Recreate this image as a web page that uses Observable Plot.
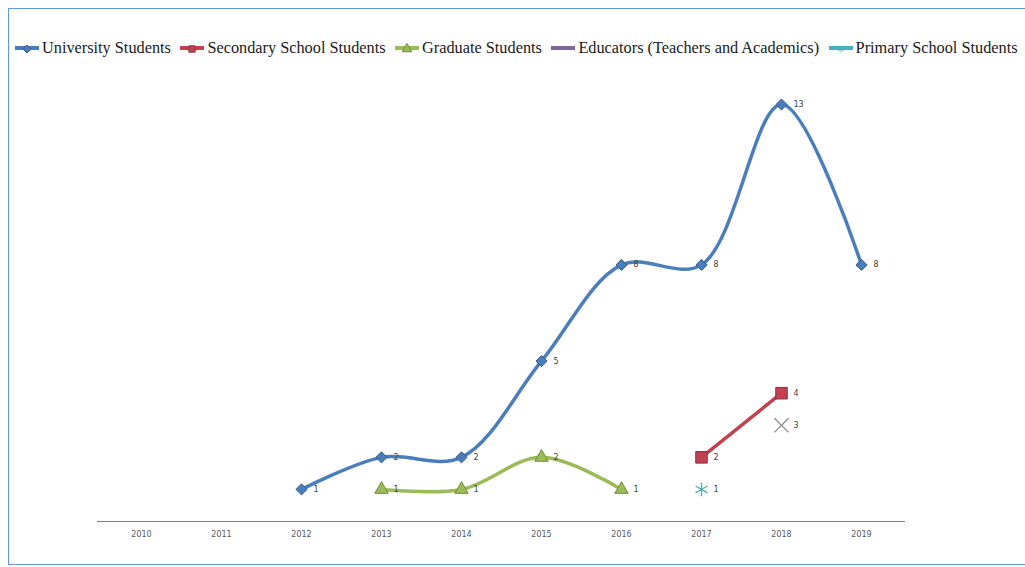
<!DOCTYPE html>
<html>
<head>
<meta charset="utf-8">
<script src="https://cdn.jsdelivr.net/npm/d3@7"></script>
<script src="https://cdn.jsdelivr.net/npm/@observablehq/plot@0.6"></script>
<style>
  body { margin: 0; background: #fff; width: 1025px; height: 567px; overflow: hidden; position: relative; }
  #legend { position: absolute; left: 14px; top: 38px; height: 20px; display: flex; align-items: center;
    font-family: "Liberation Serif", "Times New Roman", serif; font-size: 16.3px; color: #1a1a1a; white-space: nowrap; }
  #legend .item { display: flex; align-items: center; margin-right: 8.5px; }
  #legend svg { margin-right: 2px; }
  #chart { position: absolute; left: 0; top: 66px; }
  #frame { position: absolute; left: 8px; top: 8px; width: 1040px; height: 555px; border: 1.5px solid #5b9bd5; border-right: none; pointer-events: none; }
</style>
</head>
<body>
<div id="legend"></div>
<div id="chart"></div>
<div id="frame"></div>
<script>
const years = [2010, 2011, 2012, 2013, 2014, 2015, 2016, 2017, 2018, 2019];
const university = [null, null, 1, 2, 2, 5, 8, 8, 13, 8];
const secondary  = [null, null, null, null, null, null, null, 2, 4, null];
const graduate   = [null, null, null, 1, 1, 2, 1, null, null, null];
const educators  = [null, null, null, null, null, null, null, null, 3, null];
const primary    = [null, null, null, null, null, null, null, 1, null, null];

const seriesNames = ["University Students", "Secondary School Students", "Graduate Students", "Educators (Teachers and Academics)", "Primary School Students"];
const seriesValues = [university, secondary, graduate, educators, primary];
const seriesColors = ["#4a7ebb", "#c2414f", "#9bbb59", "#7d6a9c", "#4bacc6"];
const seriesStrokes = ["#385d8a", "#8c2f3e", "#71893f", "#8a8a9a", "#4bb0b0"];
const seriesSymbols = ["diamond2", "square", "triangle", "times", "asterisk"];
const seriesR = [5, 6.5, 5, 6.5, 6.5];

const rows = [];
seriesNames.forEach((name, i) => {
  seriesValues[i].forEach((v, j) => {
    if (v != null) rows.push({series: name, idx: i, year: String(years[j]), value: v});
  });
});

const marks = [
  Plot.ruleY([0], {stroke: "#7f7f7f", strokeWidth: 1})
];
seriesNames.forEach((name, i) => {
  const data = rows.filter(d => d.idx === i);
  if (data.length > 1) {
    marks.push(Plot.line(data, {x: "year", y: "value", stroke: seriesColors[i], strokeWidth: 3.5, curve: "catmull-rom"}));
  }
});
seriesNames.forEach((name, i) => {
  const data = rows.filter(d => d.idx === i);
  const stroked = seriesSymbols[i] === "times" || seriesSymbols[i] === "asterisk";
  marks.push(Plot.dot(data, {
    x: "year", y: "value", symbol: () => seriesSymbols[i], r: seriesR[i],
    fill: stroked ? "none" : seriesColors[i],
    stroke: seriesStrokes[i], strokeWidth: stroked ? 1.3 : 1
  }));
});
marks.push(Plot.text(rows, {x: "year", y: "value", text: d => String(d.value), dx: 12, textAnchor: "start",
  fontSize: 8, fill: "#404040", fontFamily: "DejaVu Sans, sans-serif"}));

const chart = Plot.plot({
  width: 1025,
  height: 501,
  marginLeft: 97,
  marginRight: 120,
  marginTop: 38,
  marginBottom: 46,
  style: {background: "transparent", fontFamily: "DejaVu Sans, sans-serif"},
  symbol: {type: "identity"},
  x: {type: "point", domain: years.map(String), padding: 0.5, label: null, tickSize: 0, tickPadding: 10},
  y: {domain: [0, 13], axis: null},
  marks: [
    ...marks,
    Plot.axisX({tickSize: 0, tickPadding: 10, fontSize: 8, color: "#595959", label: null})
  ]
});
document.getElementById("chart").appendChild(chart);

// legend
const legend = document.getElementById("legend");
seriesNames.forEach((name, i) => {
  const item = document.createElement("div");
  item.className = "item";
  const s = d3.create("svg").attr("width", 26).attr("height", 14);
  s.append("line").attr("x1", 1).attr("x2", 25).attr("y1", 7).attr("y2", 7)
    .attr("stroke", seriesColors[i]).attr("stroke-width", 4);
  if (seriesSymbols[i] !== "times") {
    const symMap = {diamond2: d3.symbolDiamond2, square: d3.symbolSquare, triangle: d3.symbolTriangle, asterisk: d3.symbolAsterisk};
    const stroked = seriesSymbols[i] === "asterisk";
    s.append("path").attr("transform", "translate(13,8)")
      .attr("d", d3.symbol(symMap[seriesSymbols[i]], stroked ? 30 : 40)())
      .attr("fill", stroked ? "none" : seriesColors[i])
      .attr("stroke", seriesStrokes[i]).attr("stroke-width", 1);
  }
  item.appendChild(s.node());
  const t = document.createElement("span");
  t.textContent = name;
  item.appendChild(t);
  legend.appendChild(item);
});
</script>
</body>
</html>
